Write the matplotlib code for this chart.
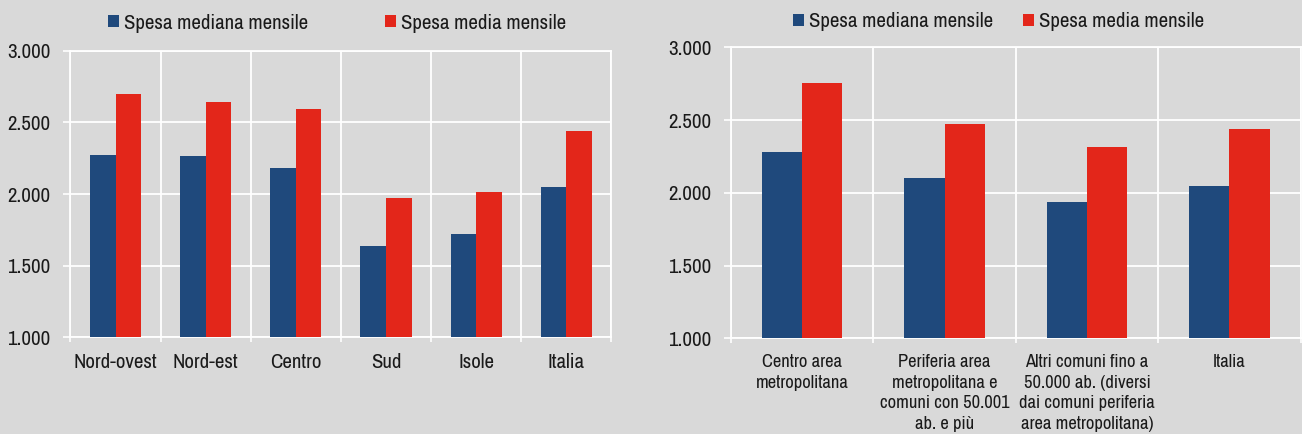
import matplotlib
matplotlib.use("Agg")
import matplotlib.pyplot as plt
from matplotlib.patches import Patch
import numpy as np

# ---- data ----
series_names = ["Spesa mediana mensile", "Spesa media mensile"]
ripartizioni = ["Nord-ovest", "Nord-est", "Centro", "Sud", "Isole", "Italia"]
rip_mediana = [2272, 2268, 2182, 1640, 1723, 2048]
rip_media = [2701, 2641, 2592, 1973, 2015, 2437]

tipologie = ["Centro area\nmetropolitana",
             "Periferia area\nmetropolitana e\ncomuni con 50.001\nab. e più",
             "Altri comuni fino a\n50.000 ab. (diversi\ndai comuni periferia\narea metropolitana)",
             "Italia"]
tip_mediana = [2283, 2102, 1937, 2048]
tip_media = [2757, 2471, 2315, 2437]

y_ticks = [1000, 1500, 2000, 2500, 3000]
y_ticklabels = ["1.000", "1.500", "2.000", "2.500", "3.000"]

BG = "#d9d9d9"
BLUE = "#1f497c"
RED = "#e3261a"
TXT = "#1a1a1a"
FONT = ["Archivo Narrow", "Liberation Sans", "DejaVu Sans"]
plt.rcParams["font.family"] = FONT

fig = plt.figure(figsize=(13.02, 4.34), dpi=100, facecolor=BG)
ax1 = fig.add_axes([0.0541, 0.2224, 0.4155, 0.6608])
ax2 = fig.add_axes([0.5614, 0.2205, 0.4376, 0.6705])

def draw(ax, cats, med, mea, xfs, leg_xy, colsp):
    n = len(cats)
    x = np.arange(n)
    w = 0.283
    ax.set_facecolor(BG)
    ax.bar(x - w / 2, np.array(med) - 1000, w, bottom=1000, color=BLUE, zorder=3)
    ax.bar(x + w / 2, np.array(mea) - 1000, w, bottom=1000, color=RED, zorder=3)
    ax.set_xlim(-0.5, n - 0.5)
    ax.set_ylim(1000, 3000)
    for s in ax.spines.values():
        s.set_visible(False)
    ax.set_yticks(y_ticks)
    ax.set_yticklabels(y_ticklabels, fontsize=15, color=TXT)
    ax.set_xticks(x)
    ax.set_xticklabels(cats, fontsize=xfs, color=TXT, linespacing=1.38, va="top")
    ax.set_xticks(np.arange(n + 1) - 0.5, minor=True)
    ax.tick_params(axis="y", which="major", length=4.7, width=1.2, color="white", pad=9.5)
    ax.tick_params(axis="x", which="major", length=0, pad=11)
    ax.tick_params(axis="x", which="minor", length=3.6, width=1.2, color="white")
    ax.grid(axis="y", which="major", color="white", linewidth=1.3, zorder=1)
    ax.grid(axis="x", which="minor", color="white", linewidth=1.3, zorder=1)
    ax.grid(axis="x", which="major", visible=False)
    for v in (1000, 3000):
        ax.axhline(v, color="white", linewidth=1.3, zorder=1, clip_on=False)
    for v in (-0.5, n - 0.5):
        ax.axvline(v, color="white", linewidth=1.3, zorder=1, clip_on=False)
    handles = [Patch(facecolor=BLUE), Patch(facecolor=RED)]
    ax.legend(handles, series_names, loc="center", bbox_to_anchor=leg_xy,
              bbox_transform=fig.transFigure, ncol=2, frameon=False,
              fontsize=15, handlelength=0.52, handleheight=0.52,
              handletextpad=0.25, columnspacing=colsp, borderpad=0,
              labelcolor=TXT)

draw(ax1, ripartizioni, rip_mediana, rip_media, 15, (0.2588, 0.9463), 3.67)
draw(ax2, tipologie, tip_mediana, tip_media, 13.3, (0.7671, 0.950), 1.45)

fig.savefig("out.png", dpi=100, facecolor=BG)
